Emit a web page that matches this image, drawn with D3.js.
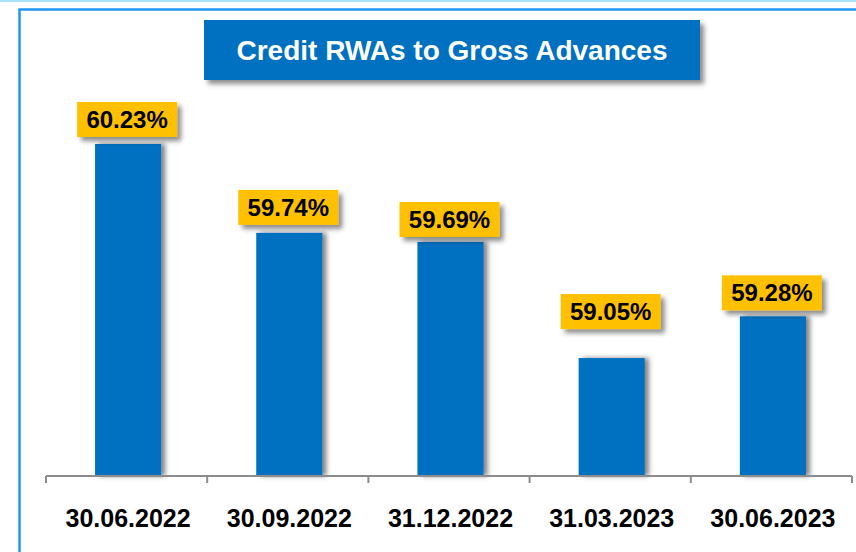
<!DOCTYPE html>
<html>
<head>
<meta charset="utf-8">
<script src="https://cdn.jsdelivr.net/npm/d3@7"></script>
<style>
  body { margin:0; background:#fff; }
  svg { display:block; font-family:"Liberation Sans", Arial, sans-serif; }
</style>
</head>
<body>
<div class="container"></div>
<script>
// chart data
var categories = ["30.06.2022", "30.09.2022", "31.12.2022", "31.03.2023", "30.06.2023"];
var values = [60.23, 59.74, 59.69, 59.05, 59.28];
var valueLabels = ["60.23%", "59.74%", "59.69%", "59.05%", "59.28%"];
var title = "Credit RWAs to Gross Advances";

// layout
var width = 856, height = 552;
var axisY = 476;
var labelGap = [7, 8, 5, 29, 6]; // label box distance above bar top

var svg = d3.select(".container").append("svg")
    .attr("width", width).attr("height", height);

var defs = svg.append("defs");
var sh = defs.append("filter").attr("id", "shadow")
    .attr("x", "-20%").attr("y", "-20%").attr("width", "150%").attr("height", "150%");
sh.append("feDropShadow").attr("dx", 4).attr("dy", 4).attr("stdDeviation", 2.5)
    .attr("flood-color", "#000").attr("flood-opacity", 0.45);
var bsh = defs.append("filter").attr("id", "barshadow")
    .attr("x", "-10%").attr("y", "-5%").attr("width", "140%").attr("height", "110%");
bsh.append("feDropShadow").attr("dx", 4).attr("dy", 0).attr("stdDeviation", 2.5)
    .attr("flood-color", "#000").attr("flood-opacity", 0.5);

// frame
svg.append("rect").attr("x", 0).attr("y", 0).attr("width", width).attr("height", 2)
    .attr("fill", "#a8e2fb");
svg.append("rect").attr("x", 19.5).attr("y", 9.5).attr("width", width + 20).attr("height", height + 20)
    .attr("fill", "none").attr("stroke", "#2196f3").attr("stroke-width", 2.5);

// scales
var x = d3.scaleBand().domain(categories).range([46, 852]).padding(0);
var barW = x.bandwidth() * 0.41;
var barShift = 1.5;
var y = d3.scaleLinear().domain([58.4, 60.23]).range([axisY, 144]);

// bars
svg.selectAll("rect.bar")
    .data(values)
    .enter().append("rect")
    .attr("class", "bar")
    .attr("x", function(d, i){ return x(categories[i]) + x.bandwidth()/2 - barW/2 + barShift; })
    .attr("y", function(d){ return y(d); })
    .attr("width", barW)
    .attr("height", function(d){ return axisY - y(d); })
    .attr("fill", "#0070c0")
    .attr("filter", "url(#barshadow)");

// axis line and ticks at band edges
var axisG = svg.append("g").attr("class", "axis");
axisG.append("line")
    .attr("x1", x.range()[0]).attr("x2", x.range()[1])
    .attr("y1", axisY).attr("y2", axisY)
    .attr("stroke", "#8c8c8c").attr("stroke-width", 2);
var edges = categories.map(function(c){ return x(c); }).concat([x.range()[1]]);
axisG.selectAll("line.tick")
    .data(edges)
    .enter().append("line")
    .attr("class", "tick")
    .attr("x1", function(d){ return d; }).attr("x2", function(d){ return d; })
    .attr("y1", axisY).attr("y2", axisY + 7)
    .attr("stroke", "#8c8c8c").attr("stroke-width", 2);

axisG.selectAll("text")
    .data(categories)
    .enter().append("text")
    .attr("x", function(d){ return x(d) + x.bandwidth()/2 + barShift; })
    .attr("y", 527)
    .attr("text-anchor", "middle")
    .attr("font-size", 25)
    .attr("font-weight", "bold")
    .attr("fill", "#000")
    .text(function(d){ return d; });

// value labels
var boxW = 100, boxH = 35;
var lab = svg.selectAll("g.vlabel")
    .data(values)
    .enter().append("g")
    .attr("class", "vlabel")
    .attr("transform", function(d, i){
        var cx = x(categories[i]) + x.bandwidth()/2 + barShift - 1;
        var top = y(d) - labelGap[i] - boxH;
        return "translate(" + cx + "," + top + ")";
    });
lab.append("rect")
    .attr("x", -boxW/2).attr("y", 0)
    .attr("width", boxW).attr("height", boxH)
    .attr("fill", "#ffc000")
    .attr("filter", "url(#shadow)");
lab.append("text")
    .attr("x", 0).attr("y", boxH/2 + 8.5)
    .attr("text-anchor", "middle")
    .attr("font-size", 24)
    .attr("font-weight", "bold")
    .attr("fill", "#000")
    .text(function(d, i){ return valueLabels[i]; });

// title box
var tg = svg.append("g").attr("class", "title");
tg.append("rect")
    .attr("x", 204).attr("y", 20).attr("width", 496).attr("height", 60)
    .attr("fill", "#0070c0")
    .attr("filter", "url(#shadow)");
tg.append("text")
    .attr("x", 452).attr("y", 60)
    .attr("text-anchor", "middle")
    .attr("font-size", 28)
    .attr("font-weight", "bold")
    .attr("fill", "#fff")
    .text(title);
</script>
</body>
</html>
